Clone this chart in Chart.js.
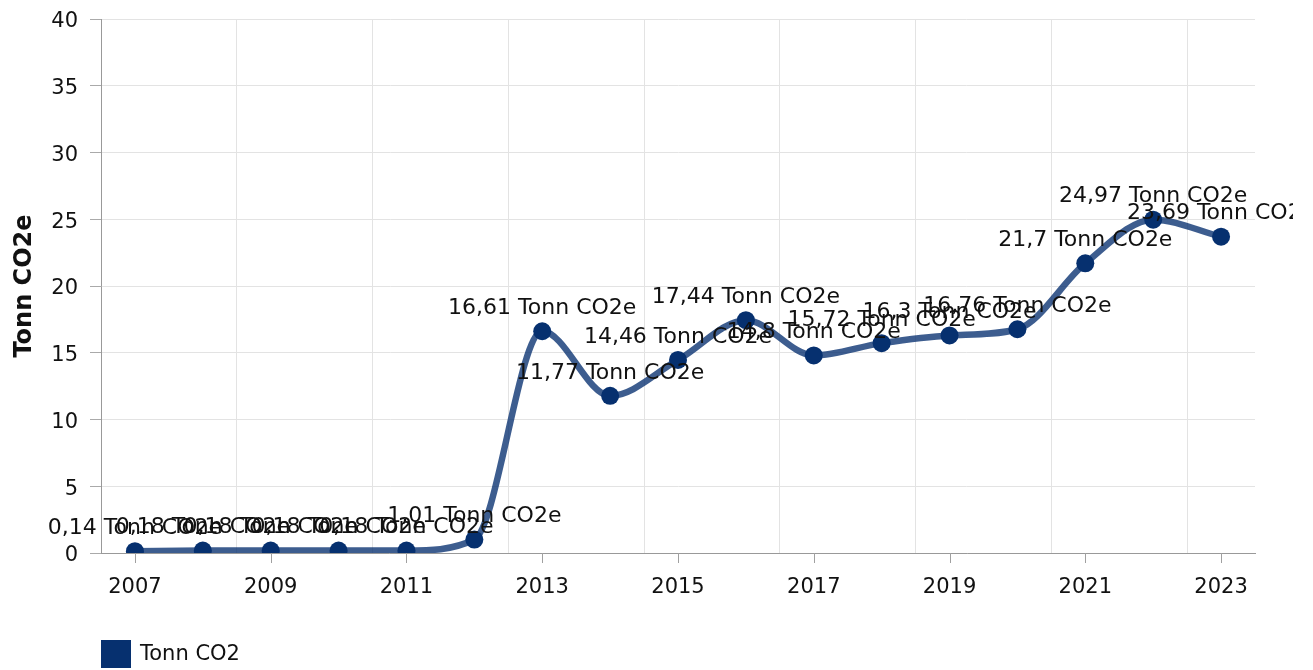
<!DOCTYPE html>
<html>
<head>
<meta charset="utf-8">
<script src="https://cdn.jsdelivr.net/npm/chart.js@4/dist/chart.umd.min.js"></script>
<style>
  html, body { margin: 0; padding: 0; background: #fff; }
  #wrap { width: 1313px; height: 670px; position: relative; }
</style>
</head>
<body>
<div id="wrap"><canvas id="c" width="1313" height="670"></canvas></div>
<script>
const years = ['2007','2008','2009','2010','2011','2012','2013','2014','2015','2016','2017','2018','2019','2020','2021','2022','2023'];
const values = [0.14, 0.18, 0.18, 0.18, 0.18, 1.01, 16.61, 11.77, 14.46, 17.44, 14.8, 15.72, 16.3, 16.76, 21.7, 24.97, 23.69];
const seriesName = 'Tonn CO2';
const unit = 'Tonn CO2e';
const yTitle = 'Tonn CO2e';

const FONT = 'DejaVu Sans, Verdana, sans-serif';
const pointColor = '#06306f';
const lineColor = 'rgba(6,48,111,0.78)';
const gridColor = '#e3e3e3';

const fmt = v => String(v).replace('.', ',');

const extras = {
  id: 'extras',
  afterDatasetsDraw(chart) {
    const ctx = chart.ctx;
    const meta = chart.getDatasetMeta(0);
    const xs = chart.scales.x;
    const area = chart.chartArea;
    ctx.save();
    ctx.strokeStyle = '#a0a0a0';
    ctx.lineWidth = 1;
    years.forEach((y, i) => {
      if (i % 2 !== 0) return;
      const px = Math.round(xs.getPixelForValue(i)) + 0.5;
      ctx.beginPath();
      ctx.moveTo(px, area.bottom);
      ctx.lineTo(px, area.bottom + 10);
      ctx.stroke();
    });
    ctx.beginPath();
    ctx.rect(0, 0, 1293, chart.height);
    ctx.clip();
    ctx.font = '22px ' + FONT;
    ctx.fillStyle = '#111';
    ctx.textAlign = 'center';
    ctx.textBaseline = 'middle';
    meta.data.forEach((pt, i) => {
      ctx.fillText(fmt(values[i]) + ' ' + unit, pt.x, pt.y - 23);
    });
    ctx.restore();
  },
  afterDraw(chart) {
    const ctx = chart.ctx;
    const area = chart.chartArea;
    ctx.save();
    const bx = area.left, by = area.bottom + 87;
    ctx.fillStyle = pointColor;
    ctx.fillRect(bx, by, 30, 28);
    ctx.font = '21px ' + FONT;
    ctx.fillStyle = '#111';
    ctx.textAlign = 'left';
    ctx.textBaseline = 'middle';
    ctx.fillText(chart.data.datasets[0].label, bx + 39, by + 15);
    ctx.restore();
  }
};

new Chart(document.getElementById('c'), {
  type: 'line',
  data: {
    labels: years,
    datasets: [{
      label: seriesName,
      data: values,
      borderColor: lineColor,
      borderWidth: 6.5,
      cubicInterpolationMode: 'monotone',
      pointRadius: 9,
      pointBackgroundColor: pointColor,
      pointBorderColor: pointColor,
      pointBorderWidth: 0,
      fill: false
    }]
  },
  options: {
    responsive: false,
    animation: false,
    events: [],
    layout: { padding: { top: 19, right: 58, left: 0, bottom: 67 } },
    plugins: {
      legend: { display: false },
      tooltip: { enabled: false }
    },
    scales: {
      x: {
        type: 'category',
        offset: true,
        afterFit(s) { s.height = 50; s.paddingLeft = 0; s.paddingRight = 0; },
        grid: {
          offset: true,
          drawTicks: false,
          color: c => (c.index % 2 === 0 ? gridColor : 'rgba(0,0,0,0)')
        },
        border: { color: '#999' },
        ticks: {
          autoSkip: false,
          maxRotation: 0,
          padding: 22,
          color: '#111',
          font: { family: FONT, size: 21 },
          callback(v, i) { return i % 2 === 0 ? this.getLabelForValue(v) : ''; }
        }
      },
      y: {
        min: 0, max: 40,
        afterFit(s) { s.width = 101; s.paddingTop = 0; s.paddingBottom = 0; },
        grid: { color: gridColor, tickLength: 11, tickColor: '#aaa' },
        border: { color: '#999' },
        ticks: {
          stepSize: 5,
          padding: 12,
          labelOffset: 3,
          color: '#111',
          font: { family: FONT, size: 21 }
        },
        title: {
          display: true,
          text: yTitle,
          color: '#111',
          padding: { top: 10, bottom: 0 },
          font: { family: FONT, size: 24, weight: 'bold' }
        }
      }
    }
  },
  plugins: [extras]
});
</script>
</body>
</html>
